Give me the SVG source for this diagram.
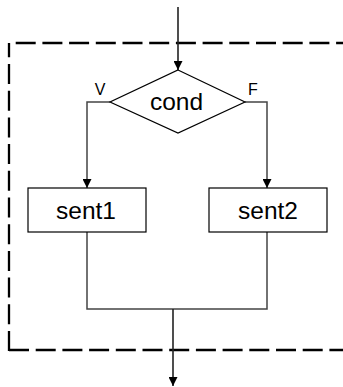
<svg xmlns="http://www.w3.org/2000/svg" width="343" height="387" viewBox="0 0 343 387">
<style>
.dash{fill:none;stroke:#000;stroke-width:2.3;stroke-dasharray:20 6.7}
.shape{fill:#fff;stroke:#000;stroke-width:1.2}
.conn{fill:none;stroke:#444;stroke-width:1.5}
.arr{fill:none;stroke:#222;stroke-width:1.6}
.lbl{font-family:"Liberation Sans",Arial,sans-serif;font-size:24.5px;fill:#000;text-anchor:middle}
.sm{font-family:"Liberation Sans",Arial,sans-serif;font-size:16px;fill:#000;text-anchor:middle}
</style>
<defs>
<marker id="ah" viewBox="0 0 10 10" markerUnits="userSpaceOnUse" markerWidth="9" markerHeight="9" refX="10" refY="5" orient="auto">
<path d="M0,0 L10,5 L0,10 z" fill="#000"/>
</marker>
</defs>
<g id="frame">
<path class="dash" d="M9 43 H345" stroke-dashoffset="20"/>
<path class="dash" d="M9 351 V43"/>
<path class="dash" d="M9 350 H345"/>
</g>
<g id="connectors">
<path class="arr" d="M178 7 V70" marker-end="url(#ah)"/>
<path class="conn" d="M110 102 H87 V188" marker-end="url(#ah)"/>
<path class="conn" d="M245 102 H267 V188" marker-end="url(#ah)"/>
<path class="conn" d="M87 232 V309 H267 V232"/>
<path class="arr" d="M173 309 V386" stroke-width="2" marker-end="url(#ah)"/>
</g>
<g id="cond">
<polygon class="shape" points="178,70 245,102 178,133 110,102"/>
<text class="lbl" x="176.5" y="110">cond</text>
</g>
<g id="sent1">
<rect class="shape" x="28" y="188" width="118" height="44"/>
<text class="lbl" x="86" y="219">sent1</text>
</g>
<g id="sent2">
<rect class="shape" x="209" y="188" width="118" height="44"/>
<text class="lbl" x="268" y="219">sent2</text>
</g>
<g id="labels">
<text class="sm" x="100" y="95">V</text>
<text class="sm" x="253" y="95">F</text>
</g>
</svg>
